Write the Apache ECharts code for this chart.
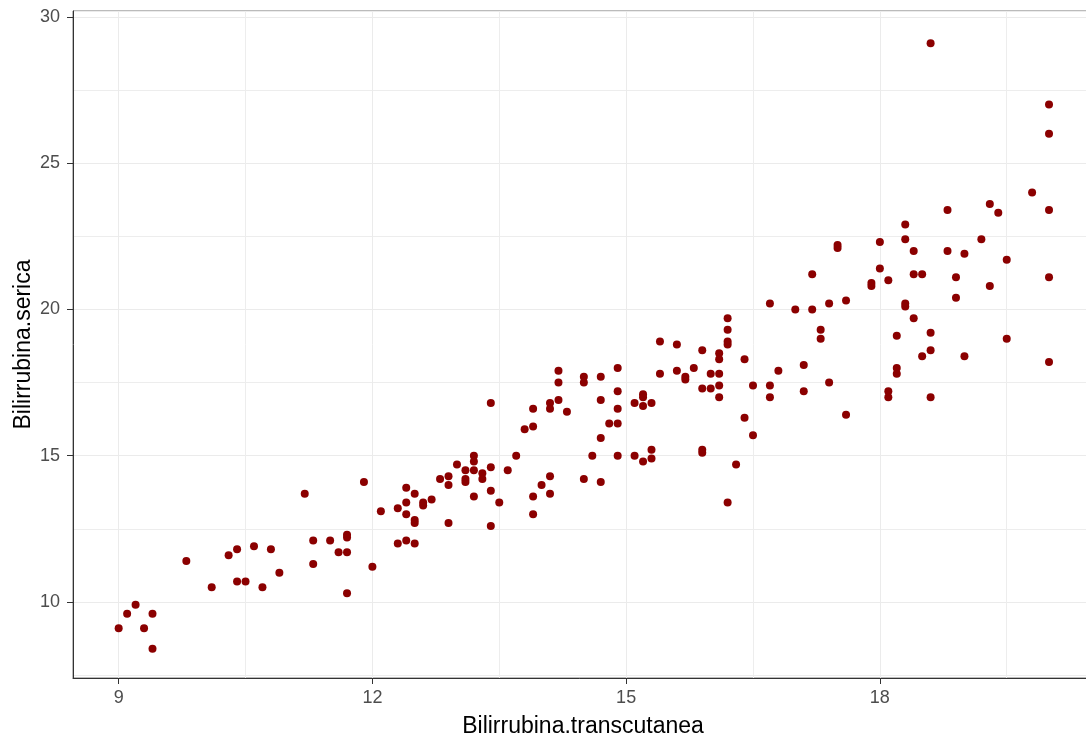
<!DOCTYPE html>
<html>
<head>
<meta charset="utf-8">
<title>Bilirrubina</title>
<script src="https://cdn.jsdelivr.net/npm/echarts@6/dist/echarts.min.js"></script>
<style>
  html, body { margin: 0; padding: 0; background: #fff; }
  #chart { width: 1086px; height: 739px; }
</style>
</head>
<body>
<div id="chart"></div>
<script>
// valori
const transcutanea = [
  9.0, 9.1, 9.2, 9.3, 9.4, 9.4, 9.8, 10.1, 10.3, 10.4, 10.4, 10.5, 10.6, 10.7, 10.8, 10.9,
  11.3, 11.3, 11.5, 11.2, 11.9, 11.7, 11.7, 11.6, 11.7, 11.7, 12.0, 12.1, 12.3, 12.4, 12.4, 12.4,
  12.5, 12.6, 12.6, 12.7, 12.5, 12.5, 12.3, 12.4, 12.5, 12.8, 12.9, 12.9, 12.9, 13.0, 13.1, 13.1,
  13.1, 13.2, 13.2, 13.2, 13.2, 13.3, 13.3, 13.4, 13.4, 13.4, 13.4, 13.5, 13.6, 13.7, 13.8, 13.9,
  13.9, 13.9, 13.9, 14.0, 14.1, 14.1, 14.1, 14.1, 14.2, 14.2, 14.2, 14.3, 14.5, 14.5, 14.5, 14.6,
  14.7, 14.7, 14.7, 14.7, 14.8, 14.9, 14.9, 14.9, 14.9, 14.9, 15.1, 15.1, 15.2, 15.2, 15.2, 15.2,
  15.3, 15.3, 15.3, 15.4, 15.4, 15.6, 15.6, 15.7, 15.7, 15.8, 15.9, 15.9, 15.9, 15.9, 16.0, 16.0,
  16.1, 16.1, 16.1, 16.1, 16.1, 16.2, 16.2, 16.2, 16.2, 16.2, 16.3, 16.4, 16.4, 16.5, 16.5, 16.7,
  16.7, 16.7, 16.8, 17.0, 17.1, 17.1, 17.2, 17.2, 17.3, 17.3, 17.4, 17.4, 17.5, 17.5, 17.6, 17.6,
  17.9, 17.9, 18.0, 18.0, 18.1, 18.1, 18.1, 18.2, 18.2, 18.2, 18.3, 18.3, 18.3, 18.3, 18.4, 18.4,
  18.4, 18.5, 18.5, 18.6, 18.6, 18.6, 18.6, 18.8, 18.8, 18.9, 18.9, 19.0, 19.0, 19.2, 19.3, 19.3,
  19.4, 19.5, 19.5, 19.8, 20.0, 20.0, 20.0, 20.0, 20.0
];
const serica = [
  9.1, 9.6, 9.9, 9.1, 9.6, 8.4, 11.4, 10.5, 11.6, 11.8, 10.7, 10.7, 11.9, 10.5, 11.8, 11.0,
  12.1, 11.3, 12.1, 13.7, 14.1, 12.3, 12.2, 11.7, 11.7, 10.3, 11.2, 13.1, 13.2, 13.4, 13.0, 13.9,
  13.7, 13.4, 13.3, 13.5, 12.8, 12.7, 12.0, 12.1, 12.0, 14.2, 14.3, 14.0, 12.7, 14.7, 14.5, 14.2,
  14.1, 15.0, 14.8, 14.5, 13.6, 14.4, 14.2, 14.6, 13.8, 12.6, 16.8, 13.4, 14.5, 15.0, 15.9, 16.0,
  16.6, 13.6, 13.0, 14.0, 14.3, 13.7, 16.8, 16.6, 17.9, 17.5, 16.9, 16.5, 17.7, 17.5, 14.2, 15.0,
  17.7, 16.9, 15.6, 14.1, 16.1, 18.0, 17.2, 16.6, 16.1, 15.0, 16.8, 15.0, 17.1, 17.0, 16.7, 14.8,
  16.8, 15.2, 14.9, 18.9, 17.8, 18.8, 17.9, 17.7, 17.6, 18.0, 18.6, 17.3, 15.2, 15.1, 17.8, 17.3,
  18.5, 18.3, 17.8, 17.4, 17.0, 19.7, 19.3, 18.9, 18.8, 13.4, 14.7, 18.3, 16.3, 17.4, 15.7, 20.2,
  17.4, 17.0, 17.9, 20.0, 18.1, 17.2, 20.0, 21.2, 19.3, 19.0, 20.2, 17.5, 22.2, 22.1, 20.3, 16.4,
  20.9, 20.8, 22.3, 21.4, 21.0, 17.2, 17.0, 19.1, 18.0, 17.8, 22.9, 22.4, 20.2, 20.1, 22.0, 21.2,
  19.7, 21.2, 18.4, 29.1, 19.2, 18.6, 17.0, 23.4, 22.0, 21.1, 20.4, 21.9, 18.4, 22.4, 23.6, 20.8,
  23.3, 21.7, 19.0, 24.0, 27.0, 26.0, 23.4, 21.1, 18.2
];

const xMin = 8.46, xMax = 20.52;
const yMin = 7.4, yMax = 30.2;

const points = transcutanea.map((x, i) => [x, serica[i]]);

const chart = echarts.init(document.getElementById('chart'));

const font = '"Liberation Sans", Arial, sans-serif';

const option = {
  animation: false,
  backgroundColor: '#ffffff',
  grid: {
    left: 73,
    right: -7,
    top: 11,
    bottom: 61,
    outerBoundsMode: 'none',
    containLabel: false,
    show: true,
    borderColor: '#777777',
    borderWidth: 1
  },
  xAxis: {
    type: 'value',
    min: xMin,
    max: xMax,
    splitNumber: 4,
    name: 'Bilirrubina.transcutanea',
    nameLocation: 'middle',
    nameGap: 37,
    nameTextStyle: { color: '#000', fontSize: 23, fontFamily: font },
    axisLine: { show: true, onZero: false, lineStyle: { color: '#333333', width: 1 } },
    axisTick: { show: true, length: 6, lineStyle: { color: '#333333' } },
    axisLabel: {
      color: '#4d4d4d', fontSize: 18, fontFamily: font, margin: 11,
      showMinLabel: false, showMaxLabel: false
    },
    splitLine: { show: true, lineStyle: { color: '#ebebeb', width: 1 } },
    minorTick: { show: false, splitNumber: 2 },
    minorSplitLine: { show: true, lineStyle: { color: '#ededed', width: 1 } }
  },
  yAxis: {
    type: 'value',
    min: yMin,
    max: yMax,
    splitNumber: 5,
    name: 'Bilirrubina.serica',
    nameLocation: 'middle',
    nameGap: 38,
    nameMoveOverlap: false,
    nameRotate: 90,
    nameTextStyle: { color: '#000', fontSize: 23, fontFamily: font },
    axisLine: { show: true, onZero: false, lineStyle: { color: '#333333', width: 1 } },
    axisTick: { show: true, length: 6, lineStyle: { color: '#333333' } },
    axisLabel: {
      color: '#4d4d4d', fontSize: 18, fontFamily: font, margin: 13,
      showMinLabel: false, showMaxLabel: false
    },
    splitLine: { show: true, lineStyle: { color: '#ebebeb', width: 1 } },
    minorTick: { show: false, splitNumber: 2 },
    minorSplitLine: { show: true, lineStyle: { color: '#ededed', width: 1 } }
  },
  series: [{
    type: 'scatter',
    data: points,
    symbolSize: 8,
    itemStyle: { color: '#8b0000', opacity: 1 },
    silent: true
  }]
};

chart.setOption(option);
</script>
</body>
</html>
